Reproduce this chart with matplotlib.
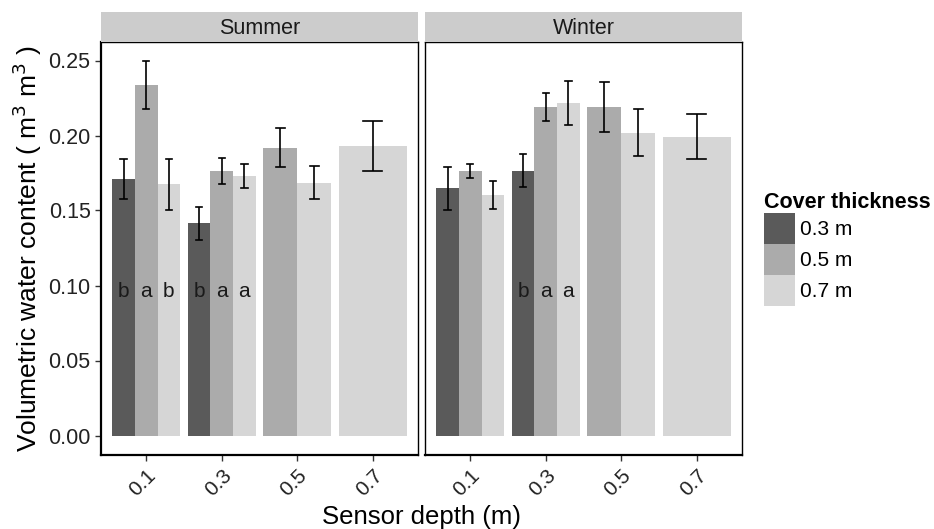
import numpy as np
import matplotlib
matplotlib.use('Agg')
import matplotlib.pyplot as plt
from matplotlib.patches import Patch

plt.rcParams['font.family'] = ['Liberation Sans', 'DejaVu Sans']

# 데이터
depths = ['0.1', '0.3', '0.5', '0.7']
covers = ['0.3 m', '0.5 m', '0.7 m']
colors = ['#5a5a5a', '#ababab', '#d6d6d6']

nan = np.nan
summer_mean = [[0.171, 0.1415, nan, nan],
               [0.2335, 0.1765, 0.192, nan],
               [0.1675, 0.173, 0.1685, 0.193]]
summer_err = [[0.013, 0.011, nan, nan],
              [0.016, 0.0087, 0.013, nan],
              [0.017, 0.008, 0.011, 0.0167]]
winter_mean = [[0.1648, 0.1765, nan, nan],
               [0.1765, 0.219, 0.219, nan],
               [0.1603, 0.2215, 0.2019, 0.1992]]
winter_err = [[0.0145, 0.011, nan, nan],
              [0.0045, 0.0095, 0.0165, nan],
              [0.0095, 0.0147, 0.0155, 0.015]]
# 유의성 문자
summer_letters = [['b', 'a', 'b'], ['b', 'a', 'a'], None, None]
winter_letters = [None, ['b', 'a', 'a'], None, None]

seasons = ['Summer', 'Winter']
means = [summer_mean, winter_mean]
errs = [summer_err, winter_err]
letters = [summer_letters, winter_letters]

W, H = 934, 529
fig = plt.figure(figsize=(W / 100, H / 100), dpi=100)

panels = [(101, 418), (425, 742)]
top, bottom = 42, 455
y0px, scale = 435.5, 1500.0

for k, (x1, x2) in enumerate(panels):
    ax = fig.add_axes([x1 / W, 1 - bottom / H, (x2 - x1) / W, (bottom - top) / H])
    m = np.array(means[k])
    e = np.array(errs[k])
    for j in range(len(depths)):
        present = [i for i in range(len(covers)) if not np.isnan(m[i, j])]
        n = len(present)
        bw = 0.9 / n
        for p, i in enumerate(present):
            xc = j - 0.45 + bw * (p + 0.5)
            ax.bar(xc, m[i, j], width=bw, color=colors[i], linewidth=0)
            cw = 0.25 / n
            ax.errorbar(xc, m[i, j], yerr=e[i, j], fmt='none', ecolor='black',
                        elinewidth=1.2, capsize=0)
            for yy in (m[i, j] - e[i, j], m[i, j] + e[i, j]):
                ax.plot([xc - cw / 2, xc + cw / 2], [yy, yy], color='black', lw=1.2)
            lab = letters[k][j]
            if lab is not None:
                ax.text(xc, 0.0925, lab[p], ha='center', va='baseline', fontsize=15,
                        color='#1a1a1a')
    ax.set_xlim(-0.6, 3.6)
    ax.set_ylim(-(bottom - y0px) / scale, (y0px - top) / scale)
    ax.set_xticks(range(len(depths)))
    ax.set_xticklabels(depths, rotation=45, ha='right', va='top',
                       rotation_mode='anchor', fontsize=15, color='#222222')
    ax.set_yticks(np.arange(0, 0.26, 0.05))
    if k == 0:
        ax.set_yticklabels(['%.2f' % v for v in np.arange(0, 0.26, 0.05)],
                           fontsize=15.5, color='#222222')
        ax.set_ylabel(r'Volumetric water content ( m$^3$ m$^3$ )', fontsize=19,
                      labelpad=3)
    else:
        ax.tick_params(axis='y', left=False, labelleft=False)
    ax.tick_params(axis='both', direction='out', length=4, width=1, color='#333333')
    for s in ax.spines.values():
        s.set_linewidth(1.0)
        s.set_color('black')
    ax.spines['bottom'].set_linewidth(1.6)
    if k == 0:
        ax.spines['left'].set_linewidth(1.6)

    # 스트립
    sax = fig.add_axes([x1 / W, 1 - top / H, (x2 - x1) / W, 30 / H])
    sax.set_facecolor('#cccccc')
    sax.set_xticks([])
    sax.set_yticks([])
    for s in sax.spines.values():
        s.set_visible(False)
    sax.text(0.5, 0.45, seasons[k], ha='center', va='center', fontsize=15.5,
             color='#1a1a1a', transform=sax.transAxes)

fig.text(421.5 / W, 1 - 517 / H, 'Sensor depth (m)', ha='center', va='center',
         fontsize=18.5)

handles = [Patch(facecolor=c, edgecolor='none') for c in colors]
leg = fig.legend(handles, covers, loc='upper left', bbox_to_anchor=(764 / W, 1 - 192 / H),
                 frameon=False, fontsize=15, handlelength=1.5, handleheight=1.9,
                 labelspacing=0, handletextpad=0.25, borderaxespad=0, borderpad=0,
                 title='Cover thickness', title_fontproperties={'weight': 'bold', 'size': 15.5})
leg._legend_box.align = 'left'

plt.savefig('out.png', dpi=100)
print('out.png saved')
